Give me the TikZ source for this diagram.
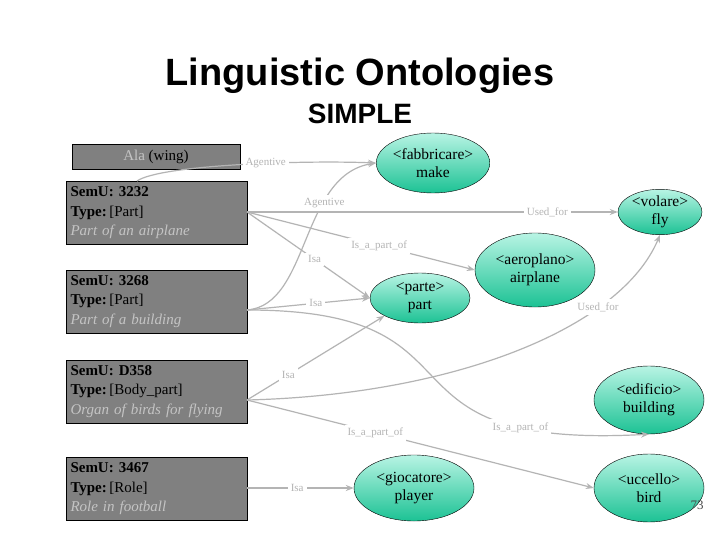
\documentclass[tikz,border=0pt]{standalone}
\usepackage{fontspec}
\setmainfont{Liberation Serif}
\newfontfamily\titlefont{Liberation Sans}
\usetikzlibrary{shapes.geometric,arrows.meta}
\definecolor{boxgray}{HTML}{808080}
\definecolor{lgray}{HTML}{C4C4C4}
\definecolor{edgegray}{HTML}{B4B4B4}
\definecolor{topg}{HTML}{B8F4E4}
\definecolor{botg}{HTML}{1CC294}
\tikzset{
 semu/.style={draw=black, fill=boxgray, minimum width=181pt, minimum height=63pt, align=left, text width=172pt, inner sep=4pt, font=\fontsize{15}{19.5}\selectfont},
 con/.style={ellipse, draw=black, top color=topg, bottom color=botg, align=center, inner sep=0pt, font=\fontsize{15.5}{18}\selectfont},
 edge/.style={draw=edgegray, line width=1.2pt},
 arr/.style={edge, -{Stealth[length=8pt,width=6pt]}},
 lab/.style={text=edgegray, font=\fontsize{11}{12}\selectfont, inner sep=3pt, fill=white}
}
\begin{document}
\begin{tikzpicture}[x=1pt,y=-1pt]
\useasboundingbox[fill=white] (0,0) rectangle (720,540);
\node (t1) at (360,76) {\titlefont\bfseries\fontsize{38}{40}\selectfont Linguistic Ontologies};
\node (t2) at (360,114) {\titlefont\bfseries\fontsize{28}{30}\selectfont SIMPLE};

\node[draw=black, fill=boxgray, minimum width=168pt, minimum height=25pt, inner sep=0pt, font=\fontsize{15}{17}\selectfont] (ala) at (156,157) {\textcolor{lgray}{Ala} (wing)};
\node[semu] (s1) at (156.5,213) {\textbf{SemU: 3232}\\\textbf{Type:}\,[Part]\\\textcolor{lgray}{\itshape Part of an airplane}};
\node[semu] (s2) at (156.5,301.5) {\textbf{SemU: 3268}\\\textbf{Type:}\,[Part]\\\textcolor{lgray}{\itshape Part of a building}};
\node[semu] (s3) at (156.5,391.5) {\textbf{SemU: D358}\\\textbf{Type:}\,[Body\_part]\\\textcolor{lgray}{\itshape Organ of birds for flying}};
\node[semu] (s4) at (156.5,489) {\textbf{SemU: 3467}\\\textbf{Type:}\,[Role]\\\textcolor{lgray}{\itshape Role in football}};

\node[con, minimum width=110pt, minimum height=60pt] (fab) at (433,163) {<fabbricare>\\make};
\node[con, minimum width=84pt, minimum height=44pt] (vol) at (660,212) {<volare>\\fly};
\node[con, minimum width=120pt, minimum height=74pt] (aer) at (535,270) {<aeroplano>\\airplane};
\node[con, minimum width=100pt, minimum height=50pt] (par) at (420,298) {<parte>\\part};
\node[con, minimum width=110pt, minimum height=68pt] (edi) at (649,400) {<edificio>\\building};
\node[con, minimum width=120pt, minimum height=66pt] (gio) at (414,488) {<giocatore>\\player};
\node[con, minimum width=110pt, minimum height=68pt] (ucc) at (649,488) {<uccello>\\bird};

\coordinate (s1r) at (247,212);
\coordinate (s2r) at (247,310);
\coordinate (s3r) at (247,400);
\coordinate (s4r) at (247,488);
\coordinate (s1t) at (137,181);

\draw[arr] (s1t) .. controls (160,165) and (300,160) .. (fab.west) node[lab, pos=0.6] {Agentive};
\draw[arr] (s2r) .. controls (310,305) and (300,175) .. (fab.west) node[lab, pos=0.68] {Agentive};
\draw[arr] (s1r) -- (vol.west) node[lab, pos=0.81] {Used\_for};
\draw[arr] (s1r) -- (aer.west) node[lab, pos=0.58] {Is\_a\_part\_of};
\draw[arr] (s1r) -- (par.west) node[lab, pos=0.55] {Isa};
\draw[arr] (s2r) -- (par.west) node[lab, pos=0.56] {Isa};
\draw[arr] (s3r) -- (par.south west) node[lab, pos=0.3] {Isa};
\draw[arr] (s3r) .. controls (450,395) and (620,330) .. (vol.south) node[lab, pos=0.72] {Used\_for};
\draw[arr] (s3r) -- (ucc.west) node[lab, pos=0.37] {Is\_a\_part\_of};
\draw[arr] (s2r) .. controls (500,310) and (360,450) .. (edi.south) node[lab, pos=0.8] {Is\_a\_part\_of};
\draw[arr] (s4r) -- (gio.west) node[lab, pos=0.47] {Isa};

\node[font=\fontsize{13}{14}\selectfont, text=black!70] (pg) at (697,505) {73};
\end{tikzpicture}
\end{document}
